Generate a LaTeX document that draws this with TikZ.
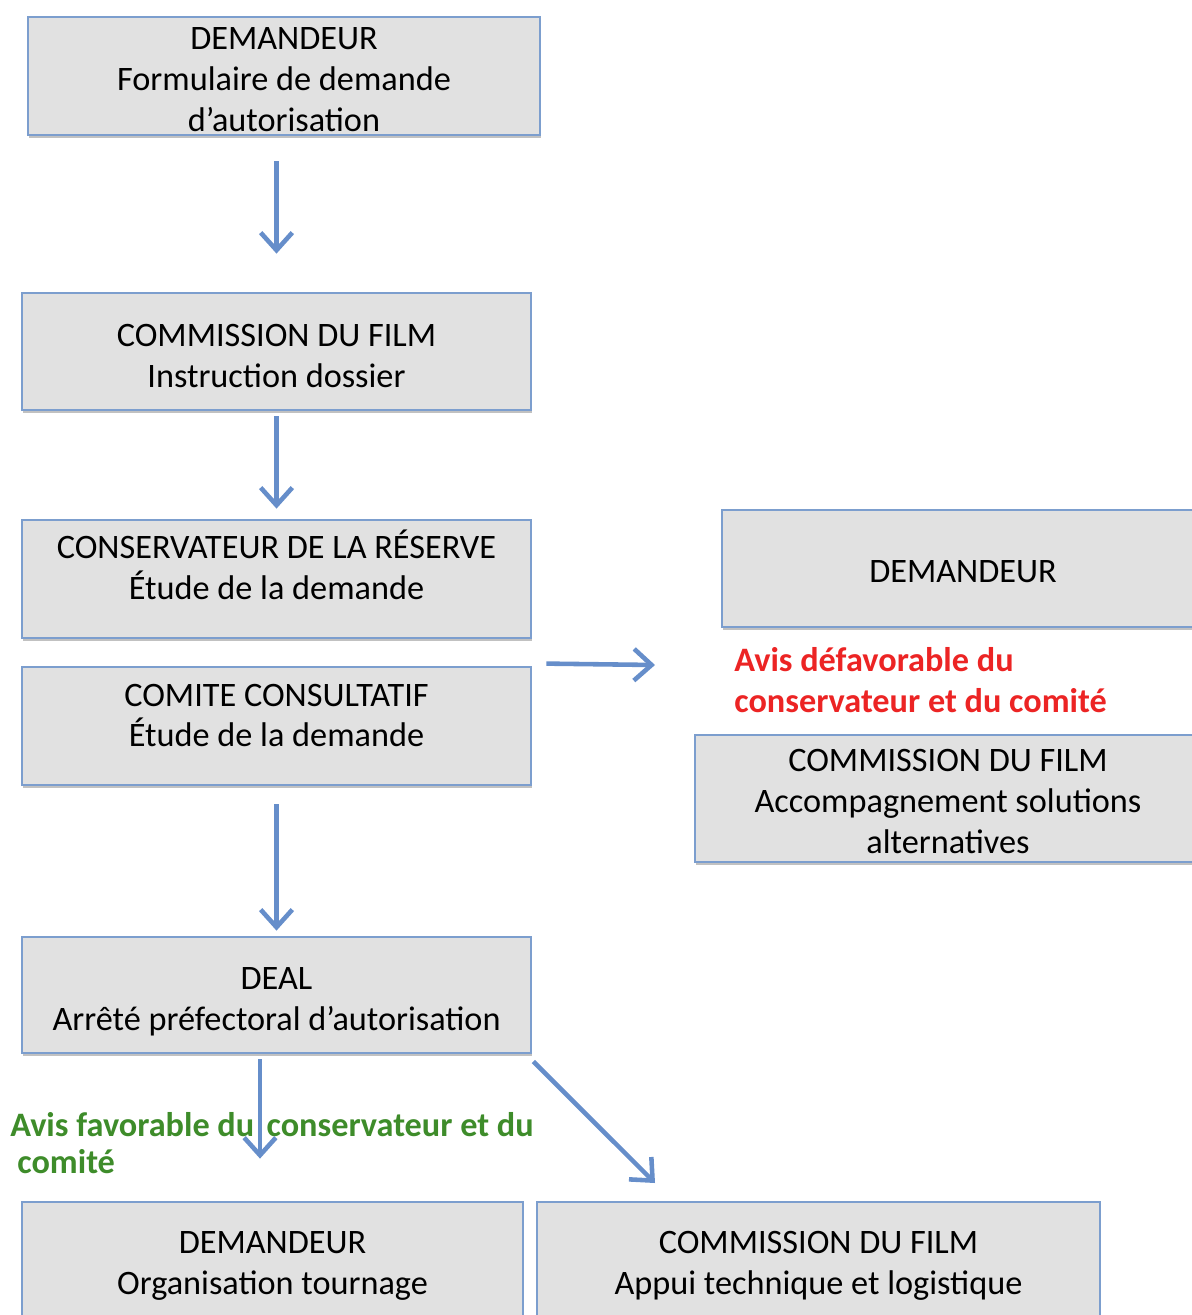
\documentclass[tikz,border=0pt]{standalone}
\usepackage{fontspec}
\setmainfont{Carlito}
\usetikzlibrary{arrows.meta,shadows}
\definecolor{boxline}{RGB}{124,158,206}
\definecolor{boxfill}{RGB}{225,225,225}
\definecolor{arrline}{RGB}{102,142,202}
\definecolor{avisrouge}{RGB}{236,36,36}
\definecolor{avisvert}{RGB}{62,140,42}
\begin{document}
\begin{tikzpicture}[x=0.02cm,y=-0.02cm,
    etape/.style={draw=boxline,line width=1.6pt,fill=boxfill,inner sep=0pt,
      drop shadow={shadow xshift=0.5pt,shadow yshift=-1.8pt,opacity=0.35,fill=black!70}},
    texte/.style={align=center,inner sep=0pt,font=\fontsize{19.5}{23.3}\selectfont},
    avis/.style={align=left,inner sep=0pt,anchor=west,font=\bfseries\fontsize{19.5}{23.3}\selectfont},
    fleche/.style={draw=arrline,line width=2.6pt,-{Straight Barb[length=10pt,width=18pt]}}]
  \useasboundingbox (0,0) rectangle (1192,1315);
  \clip (0,0) rectangle (1192,1315);
  % colonne de gauche
  \node[etape,minimum width=10.24cm,minimum height=2.36cm] (dem1) at (284,76) {};
  \node[texte] (dem1txt) at (284,80) {DEMANDEUR\\Formulaire de demande\\d’autorisation};
  \node[etape,minimum width=10.18cm,minimum height=2.34cm] (cdf1) at (276.5,351.5) {};
  \node[texte] (cdf1txt) at (276.5,356) {COMMISSION DU FILM\\Instruction dossier};
  \node[etape,minimum width=10.18cm,minimum height=2.36cm] (cons) at (276.5,579) {};
  \node[texte] (constxt) at (276.5,565) {CONSERVATEUR DE LA RÉSERVE\\Étude de la demande};
  \node[etape,minimum width=10.18cm,minimum height=2.36cm] (comite) at (276.5,726) {};
  \node[texte] (comitetxt) at (276.5,715.5) {COMITE CONSULTATIF\\Étude de la demande};
  \node[etape,minimum width=10.18cm,minimum height=2.32cm] (deal) at (276.5,995) {};
  \node[texte] (dealtxt) at (276.5,1002) {DEAL\\Arrêté préfectoral d’autorisation};
  \node[etape,minimum width=10.02cm,minimum height=2.34cm] (dem3) at (272.5,1260.5) {};
  \node[texte] (dem3txt) at (272.5,1266) {DEMANDEUR\\Organisation tournage};
  \node[etape,minimum width=11.26cm,minimum height=2.34cm] (cdf3) at (818.5,1260.5) {};
  \node[texte] (cdf3txt) at (818.5,1266) {COMMISSION DU FILM\\Appui technique et logistique};
  % colonne de droite
  \node[etape,minimum width=9.64cm,minimum height=2.34cm] (dem2) at (963,568.5) {};
  \node[texte] (dem2txt) at (963,571.5) {DEMANDEUR};
  \node[etape,minimum width=10.12cm,minimum height=2.54cm] (cdf2) at (948,798.5) {};
  \node[texte] (cdf2txt) at (948,801.5) {COMMISSION DU FILM\\Accompagnement solutions\\alternatives};
  % avis
  \node[avis,text=avisrouge] (refus) at (734,680.5) {Avis défavorable du\\conservateur et du comité};
  \node[avis,text=avisvert,font=\bfseries\fontsize{19.5}{21}\selectfont] (accord) at (10,1143) {Avis favorable du\hspace{7pt}conservateur et du\\\hspace*{4pt}comité};
  % fleches
  \coordinate (refusfin) at (655,665);
  \coordinate (dealout) at ([xshift=-0.33cm]deal.south);
  \coordinate (appui) at (655,1183);
  \draw[fleche,shorten <=0.5cm,shorten >=0.76cm] (cdf1.north |- dem1.south) -- (cdf1.north);
  \draw[fleche,shorten <=0.1cm,shorten >=0.2cm] (cdf1.south) -- (cons.north);
  \draw[fleche] ([shift={(14,-2)}]comite.north east) -- (refusfin);
  \draw[fleche,shorten <=0.36cm,shorten >=0.1cm] (comite.south) -- (deal.north);
  \draw[fleche,shorten <=0.1cm,shorten >=0.84cm] (dealout) -- (dealout |- dem3.north);
  \draw[fleche] ([shift={(1,7)}]deal.south east) -- (appui);
\end{tikzpicture}
\end{document}
